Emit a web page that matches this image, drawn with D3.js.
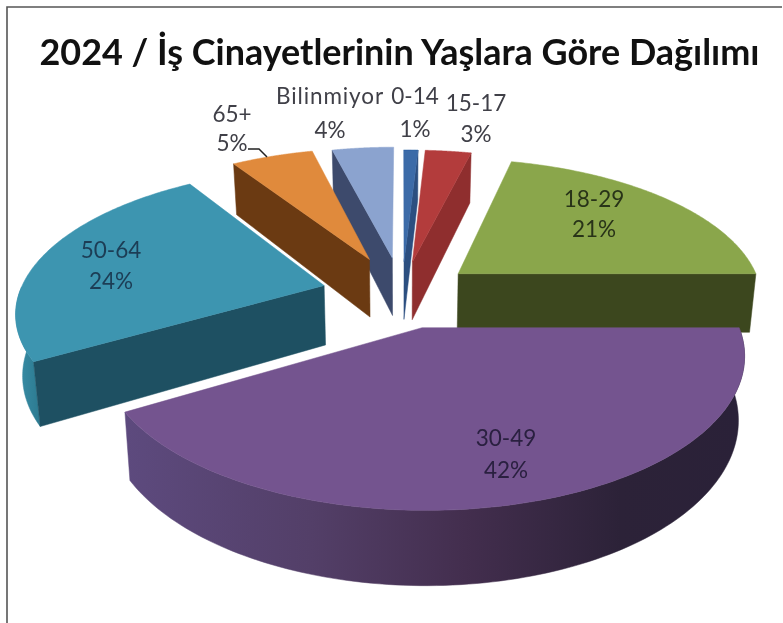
<!DOCTYPE html>
<html><head><meta charset="utf-8">
<script src="https://cdn.jsdelivr.net/npm/d3@7"></script>
<style>html,body{margin:0;padding:0;background:#fff}svg{display:block;filter:blur(0.55px)}text{font-family:Lato,"Open Sans",sans-serif}</style>
</head><body><svg id="c" width="783" height="623"></svg>
<script>
const title = "2024 / İş Cinayetlerinin Yaşlara Göre Dağılımı";
const categories = ["0-14","15-17","18-29","30-49","50-64","65+","Bilinmiyor"];
const percents = [0.9,2.9,21.2,41.5,24.4,5.2,3.9];
const topColors = ["#3c6ba8","#b33c3c","#8aa64b","#74548f","#3d95b0","#e08a3c","#8ba3cf"];
const radialWallColors = ["#2c4f80","#8f2e2e","#3c471e","#33264a","#1e5062","#6b3a12","#3d4a6c"];
const explode = [0.24,0.24,0.24,0.24,0.265,0.28,0.27];
const labelColors = ["#404048","#404048","#283318","#2a2040","#1c3d55","#404048","#404048"];
const labelAt = [[415,96,129],[476,103,134],[594,199,229],[506,438,470],[111,250,281],[232,114,143],[330,96,130]];

const W=783,H=623, cx=402, cy=294, A=305, B=140, p=0.165, D=60, taper=0.982;
const svg=d3.select("#c");

// perspective projection of the pie's ground plane (unit radius, y = far)
const proj=(x,y)=>{const w=1+p*y;return [cx+A*x/w, cy-B*y/w, w];};
const lower=(q)=>[cx+(q[0]-cx)*taper, q[1]+D/q[2]];
const line=d3.line();

const arcs=d3.pie().sort(null).value(d=>d)(percents);
const defs=svg.append("defs");
const grad=(id,stops)=>{const g=defs.append("linearGradient").attr("id",id);
  stops.forEach(s=>g.append("stop").attr("offset",s[0]).attr("stop-color",s[1]));return `url(#${id})`;};
const rimFill=[null,null,null,
  grad("g3",[[0,"#5d4a7e"],[0.3,"#533f68"],[0.55,"#432e4e"],[0.8,"#2c2238"],[1,"#2a2138"]]),
  grad("g4",[[0,"#3a8fa8"],[1,"#2c7a90"]]),
  null,null];

svg.append("path").attr("d",line([[782,7],[7,7],[7,623]])).attr("fill","none").attr("stroke","#555").attr("stroke-width",1.6);

const drawOrder=[0,1,6,5,2,4,3];
drawOrder.forEach(i=>{
  const a=arcs[i], mid=(a.startAngle+a.endAngle)/2, e=explode[i];
  const ex=e*Math.sin(mid), ey=e*Math.cos(mid);
  const apex=proj(ex,ey);
  const angs=d3.range(0,121).map(k=>a.startAngle+(a.endAngle-a.startAngle)*k/120);
  const P=t=>proj(ex+Math.sin(t),ey+Math.cos(t));
  const rim=angs.map(P);
  const g=svg.append("g");
  const wall=(pts,fill)=>g.append("path")
    .attr("d",line(pts.map(q=>[q[0],q[1]]).concat(pts.slice().reverse().map(lower)))+"Z")
    .attr("fill",fill).attr("stroke",fill).attr("stroke-width",0.5);
  // only the faces turned towards the viewer are drawn
  const front=angs.filter(t=>Math.cos(t)<0).map(P);
  if(front.length>1) wall(front,rimFill[i]||radialWallColors[i]);
  if(Math.sin(a.startAngle)<0) wall([apex,P(a.startAngle)],radialWallColors[i]);
  if(Math.sin(a.endAngle)>0) wall([apex,P(a.endAngle)],radialWallColors[i]);
  g.append("path").attr("d",line([[apex[0],apex[1]],...rim.map(q=>[q[0],q[1]])])+"Z")
    .attr("fill",topColors[i]).attr("stroke",topColors[i]).attr("stroke-width",0.5);
});

// leader line for 65+
svg.append("path").attr("d",line([[248,149],[259,149],[267,157]])).attr("fill","none").attr("stroke","#222").attr("stroke-width",1.5);

categories.forEach((c,i)=>{
  const [x,y1,y2]=labelAt[i];
  const t=svg.append("g").attr("fill",labelColors[i]).attr("font-size",22.5).attr("text-anchor","middle");
  t.append("text").attr("x",x).attr("y",y1+8).attr("letter-spacing",c.length>5?0.9:0).text(c);
  t.append("text").attr("x",x).attr("y",y2+8).text(Math.round(percents[i])+"%");
});

svg.append("text").attr("x",W/2+8).attr("y",65).attr("text-anchor","middle")
  .attr("font-size",37).attr("font-weight",700).attr("fill","#111")
  .attr("textLength",720).attr("lengthAdjust","spacingAndGlyphs").text(title);
</script></body></html>
